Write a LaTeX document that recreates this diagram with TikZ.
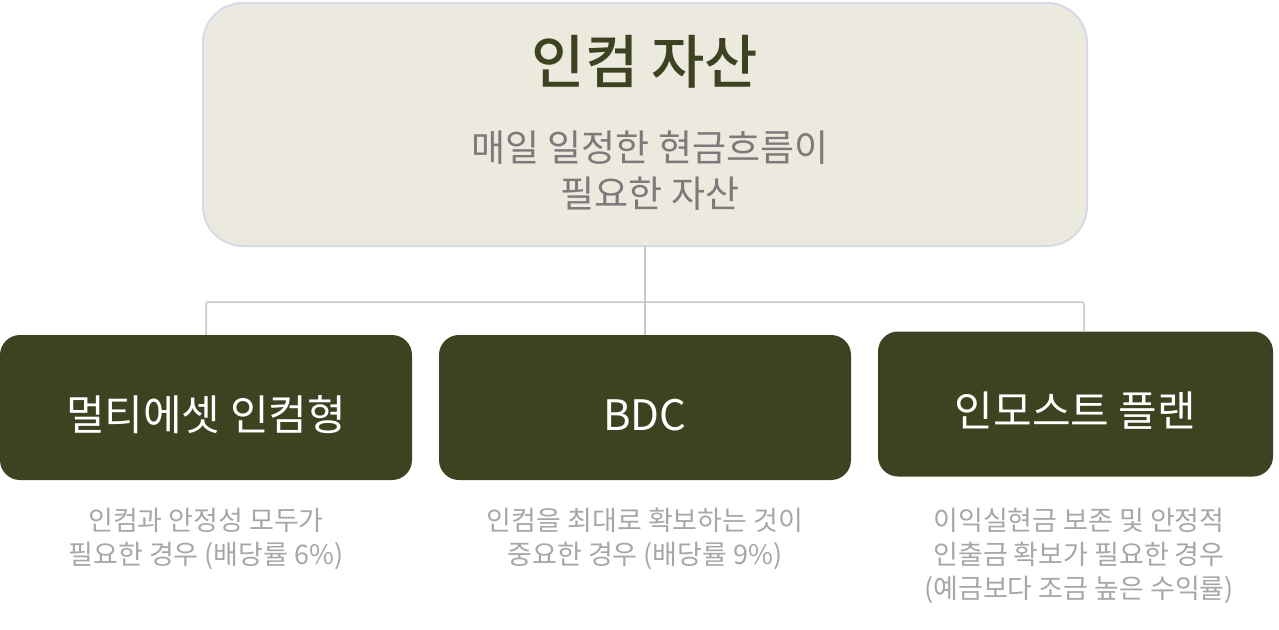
\documentclass[tikz,border=0pt]{standalone}
\usepackage{fontspec}
\setmainfont{Noto Sans CJK KR}
\newfontfamily\mediumfont{Noto Sans CJK KR Medium}
\definecolor{assetfill}{HTML}{ECE9DF}
\definecolor{assetline}{HTML}{D5DAE5}
\definecolor{darkolive}{HTML}{3D4220}
\definecolor{subgray}{HTML}{7C7A7A}
\definecolor{descgray}{HTML}{A7A7A7}
\definecolor{linkgray}{HTML}{C8C8C8}

\begin{document}
\begin{tikzpicture}[x=1pt, y=-1pt, every node/.style={align=center, inner sep=0pt},
    topbox/.style={draw=assetline, line width=2pt, fill=assetfill, rounded corners=40pt,
        minimum width=884pt, minimum height=243pt},
    typebox/.style={fill=darkolive, rounded corners=20pt, text=white,
        font=\fontsize{42}{48}\selectfont, text height=46pt, text depth=1pt,
        minimum height=145pt},
    desc/.style={text=descgray, font=\fontsize{27}{34}\selectfont},
    link/.style={draw=linkgray, line width=1.5pt, rounded corners=2pt}]
    \useasboundingbox (0,0) rectangle (1279,629);

    % top: asset class
    \node[topbox] (asset) at (645,124.5) {};
    \node[text=darkolive, font=\fontsize{58}{64}\mediumfont] (title) at (645,62) {인컴 자산};
    \node[text=subgray, font=\fontsize{37}{46}\selectfont] (sub) at (650,171) {매일 일정한 현금흐름이\\필요한 자산};

    % three products
    \node[typebox, minimum width=412pt] (multi) at (206,407.5) {멀티에셋 인컴형};
    \node[typebox, minimum width=412pt] (bdc) at (645,407.5) {BDC};
    \node[typebox, minimum width=395pt] (plan) at (1075.5,404) {인모스트 플랜};

    \node[desc] (multidesc) at (206,539) {인컴과 안정성 모두가\\필요한 경우 (배당률 6\%)};
    \node[desc] (bdcdesc) at (645,539) {인컴을 최대로 확보하는 것이\\중요한 경우 (배당률 9\%)};
    \node[desc] (plandesc) at (1079,556) {이익실현금 보존 및 안정적\\인출금 확보가 필요한 경우\\(예금보다 조금 높은 수익률)};

    % tree lines
    \coordinate (split) at (645,302);
    \coordinate (planin) at (1084,331);
    \draw[link] (asset.south) -- (split) -- (bdc.north);
    \draw[link] (multi.north) |- (split) -| (planin);
\end{tikzpicture}
\end{document}
